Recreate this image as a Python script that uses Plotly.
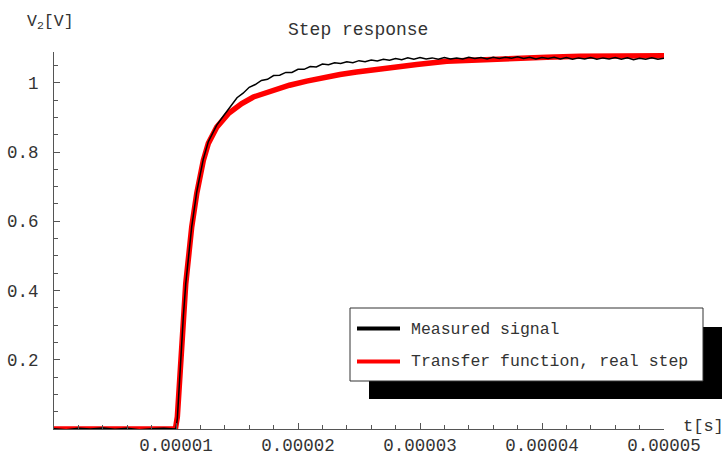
import plotly.graph_objects as go

# ---------------- data (time in microseconds, voltage in V) ----------------
meas_t_us = [0, 1, 2, 3, 4, 5, 6, 7, 8, 9, 9.9,
             10.0, 10.11, 10.27, 10.47, 10.6, 10.8, 11.07, 11.29, 11.7, 12.24, 12.65, 13.34, 13.9, 14.43,
             15.0, 15.5, 16.0, 16.5, 17.0, 17.5, 18.0, 18.5, 19.0, 19.5,
             20.0, 20.5, 21.0, 21.5, 22.0, 22.5, 23.0, 23.5, 24.0, 24.5,
             25.0, 25.5, 26.0, 26.5, 27.0, 27.5, 28.0, 28.5, 29.0, 29.5,
             30.0, 30.5, 31.0, 31.5, 32.0, 32.5, 33.0, 33.5, 34.0, 34.5,
             35.0, 35.5, 36.0, 36.5, 37.0, 37.5, 38.0, 38.5, 39.0, 39.5,
             40.0, 40.5, 41.0, 41.5, 42.0, 42.5, 43.0, 43.5, 44.0, 44.5,
             45.0, 45.5, 46.0, 46.5, 47.0, 47.5, 48.0, 48.5, 49.0, 49.5, 50.0]
meas_v = [0.001, -0.002, 0.002, 0.000, 0.003, -0.001, 0.002, -0.002, 0.001, 0.002, 0.000,
          0.003, 0.030, 0.130, 0.235, 0.325, 0.420, 0.515, 0.585, 0.685, 0.780, 0.830, 0.878, 0.905, 0.930,
          0.957, 0.970, 0.987, 0.995, 1.007, 1.010, 1.021, 1.022, 1.030, 1.030,
          1.039, 1.039, 1.047, 1.046, 1.054, 1.052, 1.058, 1.056, 1.061, 1.058,
          1.064, 1.061, 1.066, 1.063, 1.068, 1.065, 1.070, 1.067, 1.072, 1.068,
          1.073, 1.069, 1.072, 1.068, 1.073, 1.069, 1.072, 1.069, 1.074, 1.070,
          1.073, 1.069, 1.074, 1.070, 1.074, 1.071, 1.075, 1.070, 1.074, 1.069,
          1.073, 1.070, 1.074, 1.069, 1.073, 1.068, 1.072, 1.069, 1.073, 1.068,
          1.072, 1.069, 1.073, 1.068, 1.072, 1.067, 1.071, 1.068, 1.072, 1.068, 1.071]

tf_t_us = [0, 9.95, 10.11, 10.27, 10.47, 10.6, 10.8, 11.07, 11.29, 11.7, 12.24, 12.65, 13.34,
           14.29, 15.39, 16.34, 17.98, 19.3, 20.71, 22.0, 23.44, 24.8, 26.17, 27.9, 29.73,
           32.19, 34.92, 37.65, 40.39, 43.11, 46.5, 50.0]
tf_v = [0.0, 0.0, 0.035, 0.132, 0.228, 0.324, 0.420, 0.510, 0.584, 0.680, 0.776, 0.825, 0.872,
        0.911, 0.940, 0.959, 0.978, 0.993, 1.005, 1.015, 1.024, 1.031, 1.038, 1.046, 1.053,
        1.062, 1.067, 1.071, 1.074, 1.077, 1.078, 1.078]

x_tick_vals = [1e-5, 2e-5, 3e-5, 4e-5, 5e-5]
x_tick_text = ["0.00001", "0.00002", "0.00003", "0.00004", "0.00005"]
y_tick_vals = [0.2, 0.4, 0.6, 0.8, 1.0]
y_tick_text = ["0.2", "0.4", "0.6", "0.8", "1"]

series_names = ["Measured signal", "Transfer function, real step"]
title_text = "Step response"

# ---------------- figure ----------------
W, H = 725, 456
L, R, T, B = 54, 61, 52, 27
FONT = "Courier New, Liberation Mono, monospace"
TXT = "#333333"
AX = "#555555"

meas_t = [v * 1e-6 for v in meas_t_us]
tf_t = [v * 1e-6 for v in tf_t_us]

fig = go.Figure()
fig.add_trace(go.Scatter(x=tf_t, y=tf_v, mode="lines", name=series_names[1],
                         line=dict(color="#ff0000", width=5.5), showlegend=False))
fig.add_trace(go.Scatter(x=meas_t, y=meas_v, mode="lines", name=series_names[0],
                         line=dict(color="#000000", width=1.5), showlegend=False))

pw, ph = W - L - R, H - T - B


def px(xp):
    return (xp - L) / pw


def py(yp):
    return (H - B - yp) / ph


shapes = [
    dict(type="rect", xref="paper", yref="paper", x0=px(369), x1=px(722), y0=py(399), y1=py(327),
         fillcolor="black", line=dict(width=0)),
    dict(type="rect", xref="paper", yref="paper", x0=px(350), x1=px(703), y0=py(381), y1=py(308),
         fillcolor="white", line=dict(color="#333333", width=1)),
    dict(type="line", xref="paper", yref="paper", x0=px(357), x1=px(400), y0=py(328.5), y1=py(328.5),
         line=dict(color="black", width=4)),
    dict(type="line", xref="paper", yref="paper", x0=px(357), x1=px(400), y0=py(361.5), y1=py(361.5),
         line=dict(color="#ff0000", width=4)),
]

annotations = [
    dict(xref="paper", yref="paper", x=px(409), y=py(329), xanchor="left", yanchor="middle",
         text=series_names[0], showarrow=False, font=dict(family=FONT, size=16.5, color=TXT)),
    dict(xref="paper", yref="paper", x=px(409), y=py(361.5), xanchor="left", yanchor="middle",
         text=series_names[1], showarrow=False, font=dict(family=FONT, size=16.5, color=TXT)),
    dict(xref="paper", yref="paper", x=px(358), y=py(30), xanchor="center", yanchor="middle",
         text=title_text, showarrow=False, font=dict(family=FONT, size=18, color=TXT)),
    dict(xref="paper", yref="paper", x=px(25), y=py(22), xanchor="left", yanchor="middle",
         text="V<sub>2</sub>[V]", showarrow=False, font=dict(family=FONT, size=16.5, color=TXT)),
    dict(xref="paper", yref="paper", x=px(681), y=py(426), xanchor="left", yanchor="middle",
         text="t[s]", showarrow=False, font=dict(family=FONT, size=17, color=TXT)),
]

fig.update_layout(
    width=W, height=H,
    margin=dict(l=L, r=R, t=T, b=B, pad=0),
    paper_bgcolor="white", plot_bgcolor="white",
    shapes=shapes, annotations=annotations,
    showlegend=False,
    xaxis=dict(range=[0, 5e-5], automargin=False, showgrid=False, zeroline=False, showline=True,
               linecolor=AX, linewidth=1, ticks="inside", ticklen=6, tickcolor=AX,
               tickmode="array", tickvals=x_tick_vals, ticktext=x_tick_text,
               tickfont=dict(family=FONT, size=17.5, color=TXT), ticklabelstandoff=0,
               minor=dict(tickmode="linear", tick0=0, dtick=2e-6, ticks="inside",
                          ticklen=4, tickcolor=AX, showgrid=False)),
    yaxis=dict(range=[0, 1.089], automargin=False, showgrid=False, zeroline=False, showline=True,
               linecolor=AX, linewidth=1, ticks="inside", ticklen=6, tickcolor=AX,
               tickmode="array", tickvals=y_tick_vals, ticktext=y_tick_text,
               tickfont=dict(family=FONT, size=17.5, color=TXT), ticklabelstandoff=11,
               minor=dict(tickmode="linear", tick0=0, dtick=0.05, ticks="inside",
                          ticklen=4, tickcolor=AX, showgrid=False)),
)

fig.write_html("out.html", config={"displayModeBar": False},
               post_script="document.body.style.margin='0';document.body.style.overflow='hidden';")
